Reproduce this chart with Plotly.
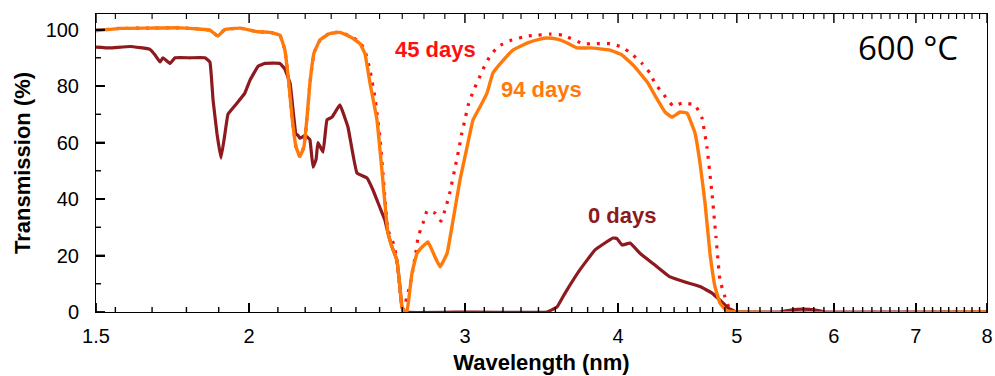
import numpy as np
import plotly.graph_objects as go

# ---- data (wavelength, transmission %) ----
wl_0days = [1.500, 1.540, 1.599, 1.660, 1.676, 1.692, 1.701, 1.724, 1.740, 1.789, 1.841, 1.858,
            1.869, 1.883, 1.897, 1.911, 1.922, 1.947, 1.984, 2.003, 2.034, 2.060, 2.119, 2.139,
            2.160, 2.172, 2.184, 2.192, 2.200, 2.221, 2.230, 2.242, 2.255, 2.268, 2.276, 2.298,
            2.315, 2.337, 2.372, 2.408, 2.449, 2.496, 2.524, 2.557, 2.581, 2.596, 2.616, 2.640,
            2.655, 2.665, 2.680, 3.000, 3.500, 3.567, 3.621, 3.724, 3.831, 3.962, 3.992, 4.030,
            4.091, 4.168, 4.287, 4.410, 4.536, 4.666, 4.772, 4.863, 4.918, 4.983, 5.42, 5.55,
            5.66, 5.78, 5.90, 7.0, 8.0]
tr_0days = [93.8, 93.5, 94.0, 93.0, 91.0, 88.5, 90.0, 88.0, 90.0, 90.0, 90.0, 88.5,
            75.0, 63.0, 54.5, 63.0, 70.0, 73.0, 77.5, 82.0, 87.0, 88.0, 88.0, 86.0,
            81.0, 71.5, 63.0, 62.6, 61.5, 62.5, 62.0, 61.0, 51.3, 54.0, 60.0, 56.6,
            68.0, 69.0, 73.3, 65.5, 49.2, 47.4, 43.2, 37.0, 32.6, 28.0, 23.0, 18.4,
            9.0, 1.8, 0.0, 0.0, 0.0, 1.8, 6.7, 15.0, 22.0, 26.2, 26.0, 23.7,
            24.4, 20.8, 16.6, 12.4, 10.6, 9.0, 6.7, 3.5, 1.4, 0.2, 0.0, 0.8,
            1.0, 0.8, 0.0, 0.0, 0.0]

wl_45days = [1.500, 1.569, 1.660, 1.756, 1.858, 1.886, 1.911, 1.966, 2.034, 2.080, 2.119, 2.139,
             2.155, 2.168, 2.184, 2.200, 2.217, 2.230, 2.242, 2.259, 2.285, 2.328, 2.372, 2.417,
             2.463, 2.486, 2.510, 2.533, 2.557, 2.581, 2.596, 2.626, 2.645, 2.655, 2.670, 2.693,
             2.711, 2.737, 2.747, 2.773, 2.794, 2.836, 2.868, 2.895, 2.917, 2.950, 2.967, 2.983,
             3.000, 3.017, 3.046, 3.075, 3.104, 3.139, 3.192, 3.277, 3.371, 3.435, 3.520, 3.607,
             3.745, 3.831, 3.940, 4.030, 4.106, 4.184, 4.247, 4.287, 4.361, 4.435, 4.519, 4.622,
             4.683, 4.727, 4.772, 4.808, 4.844, 4.890, 4.936, 4.983, 8.0]
tr_45days = [99.6, 100.4, 100.5, 100.6, 99.8, 97.7, 100.0, 100.5, 99.2, 99.0, 98.0, 92.7,
             81.0, 69.0, 58.5, 55.0, 58.5, 69.0, 81.0, 91.6, 96.3, 98.8, 99.0, 97.8,
             95.5, 92.5, 85.7, 76.0, 62.0, 40.7, 29.0, 23.7, 16.0, 8.0, 0.5, 6.0,
             11.3, 21.6, 26.5, 31.5, 35.8, 35.0, 32.2, 37.2, 42.5, 52.7, 58.0, 63.4,
             68.0, 73.0, 78.0, 82.0, 86.0, 90.0, 94.0, 96.3, 97.7, 98.0, 98.4, 98.0,
             95.0, 95.0, 95.0, 93.8, 91.3, 88.0, 84.6, 81.0, 76.8, 73.0, 74.0, 73.3,
             68.7, 58.4, 42.0, 26.5, 11.3, 5.3, 0.7, 0.0, 0.0]

wl_94days = [1.500, 1.569, 1.660, 1.756, 1.858, 1.886, 1.911, 1.966, 2.034, 2.080, 2.119, 2.139,
             2.155, 2.168, 2.184, 2.200, 2.217, 2.230, 2.242, 2.259, 2.285, 2.328, 2.372, 2.417,
             2.463, 2.486, 2.510, 2.543, 2.567, 2.581, 2.596, 2.616, 2.640, 2.655, 2.665, 2.680,
             2.691, 2.716, 2.742, 2.768, 2.799, 2.836, 2.863, 2.901, 2.934, 2.972, 3.012, 3.046,
             3.086, 3.127, 3.162, 3.222, 3.283, 3.371, 3.454, 3.500, 3.567, 3.621, 3.703, 3.795,
             3.940, 4.030, 4.129, 4.232, 4.296, 4.369, 4.427, 4.494, 4.553, 4.622, 4.666, 4.710,
             4.754, 4.799, 4.844, 4.909, 8.0]
tr_94days = [99.6, 100.4, 100.5, 100.6, 99.8, 97.7, 100.0, 100.5, 99.2, 99.0, 98.0, 92.7,
             81.0, 69.0, 58.5, 55.0, 58.5, 69.0, 81.0, 91.6, 96.3, 98.6, 99.0, 97.5,
             95.0, 91.5, 81.0, 68.0, 50.0, 38.6, 28.0, 23.0, 18.4, 9.0, 1.8, 0.0,
             0.5, 13.8, 20.8, 23.0, 24.8, 19.5, 16.0, 20.8, 32.6, 46.7, 58.4, 68.0,
             72.6, 77.5, 84.6, 89.0, 92.7, 95.2, 96.6, 97.0, 96.6, 95.6, 93.5, 93.5,
             92.7, 91.0, 86.7, 81.0, 76.0, 70.8, 69.0, 70.8, 70.4, 63.4, 52.7, 38.6,
             20.8, 9.0, 3.2, 0.4, 0.0]

x_tick_vals = [1.5, 2, 3, 4, 5, 6, 7, 8]
x_minor_vals = [n + k / 9 for n in range(1, 8) for k in range(1, 9) if 1.5 < n + k / 9 < 8]
y_tick_vals = [0, 20, 40, 60, 80, 100]
y_minor_vals = [10, 30, 50, 70, 90]

C_DARK = "#8C1A1E"
C_RED = "#FF1010"
C_ORANGE = "#FF7A0A"
X_RANGE = [np.log10(1.5), np.log10(8)]
FONT = "Liberation Sans, Arial, sans-serif"

W, H, ML, MR, MT, MB = 995, 376, 96, 8, 14, 64
PW, PH = W - ML - MR, H - MT - MB

fig = go.Figure()
fig.add_trace(go.Scatter(x=wl_45days, y=tr_45days, mode="lines",
                         line=dict(color=C_RED, width=3.2, dash="3px,7px", shape="spline", smoothing=0.3),
                         showlegend=False, hoverinfo="skip"))
fig.add_trace(go.Scatter(x=wl_0days, y=tr_0days, mode="lines",
                         line=dict(color=C_DARK, width=3.2, shape="spline", smoothing=0.25),
                         showlegend=False))
fig.add_trace(go.Scatter(x=wl_94days, y=tr_94days, mode="lines",
                         line=dict(color=C_ORANGE, width=3.4, shape="spline", smoothing=0.3),
                         showlegend=False))

# inside tick marks as shapes (x in data units, length as fraction of plot box)
maj_len, min_len = 9, 5
shapes = []
for vals, ln, w in [(x_tick_vals, maj_len, 1.8), (x_minor_vals, min_len, 1.4)]:
    for v in vals:
        shapes.append(dict(type="line", xref="x", yref="paper", x0=v, x1=v, y0=0, y1=ln / PH,
                           line=dict(color="black", width=w), layer="above"))
        shapes.append(dict(type="line", xref="x", yref="paper", x0=v, x1=v, y0=1, y1=1 - ln / PH,
                           line=dict(color="black", width=w * 0.8), layer="above"))
for vals, ln, w in [(y_tick_vals, maj_len, 1.8), (y_minor_vals, min_len, 1.4)]:
    for v in vals:
        shapes.append(dict(type="line", xref="paper", yref="y", x0=0, x1=ln / PW, y0=v, y1=v,
                           line=dict(color="black", width=w), layer="above"))

ann = [
    dict(text="<b>45 days</b>", x=np.log10(2.836), y=93.1, color=C_RED),
    dict(text="<b>94 days</b>", x=np.log10(3.461), y=78.9, color=C_ORANGE),
    dict(text="<b>0 days</b>", x=np.log10(4.030), y=34.0, color=C_DARK),
]
for a in ann:
    fig.add_annotation(text=a["text"], x=a["x"], y=a["y"], xref="x", yref="y",
                       showarrow=False, font=dict(family=FONT, size=22, color=a["color"]))
fig.add_annotation(text="600 °C", x=np.log10(6.90), y=93.5, xref="x", yref="y", showarrow=False,
                   font=dict(family="Open Sans, sans-serif", size=33, color="black"))

fig.update_layout(
    width=W, height=H,
    margin=dict(l=ML, r=MR, t=MT, b=MB),
    plot_bgcolor="white",
    shapes=shapes,
    xaxis=dict(
        type="log", range=X_RANGE, automargin=False,
        tickmode="array", tickvals=x_tick_vals,
        ticks="inside", ticklen=9, tickwidth=2, tickcolor="black",
        showline=True, linecolor="black", mirror=True, showgrid=False,
        tickfont=dict(size=20, family=FONT, color="black"),
        ticklabelstandoff=6,
        title=dict(text="<b>Wavelength (nm)</b>", font=dict(size=22, family=FONT, color="black"), standoff=8),
    ),
    yaxis=dict(
        range=[0, 105.5], dtick=20, automargin=False,
        ticks="inside", ticklen=9, tickwidth=2, tickcolor="black",
        showline=True, linecolor="black", mirror=True, showgrid=False, zeroline=False,
        tickfont=dict(size=20, family=FONT, color="black"),
        ticklabelstandoff=12,
        title=dict(text="<b>Transmission (%)</b>", font=dict(size=22, family=FONT, color="black"), standoff=8),
    ),
)

fig.write_html("out.html")
